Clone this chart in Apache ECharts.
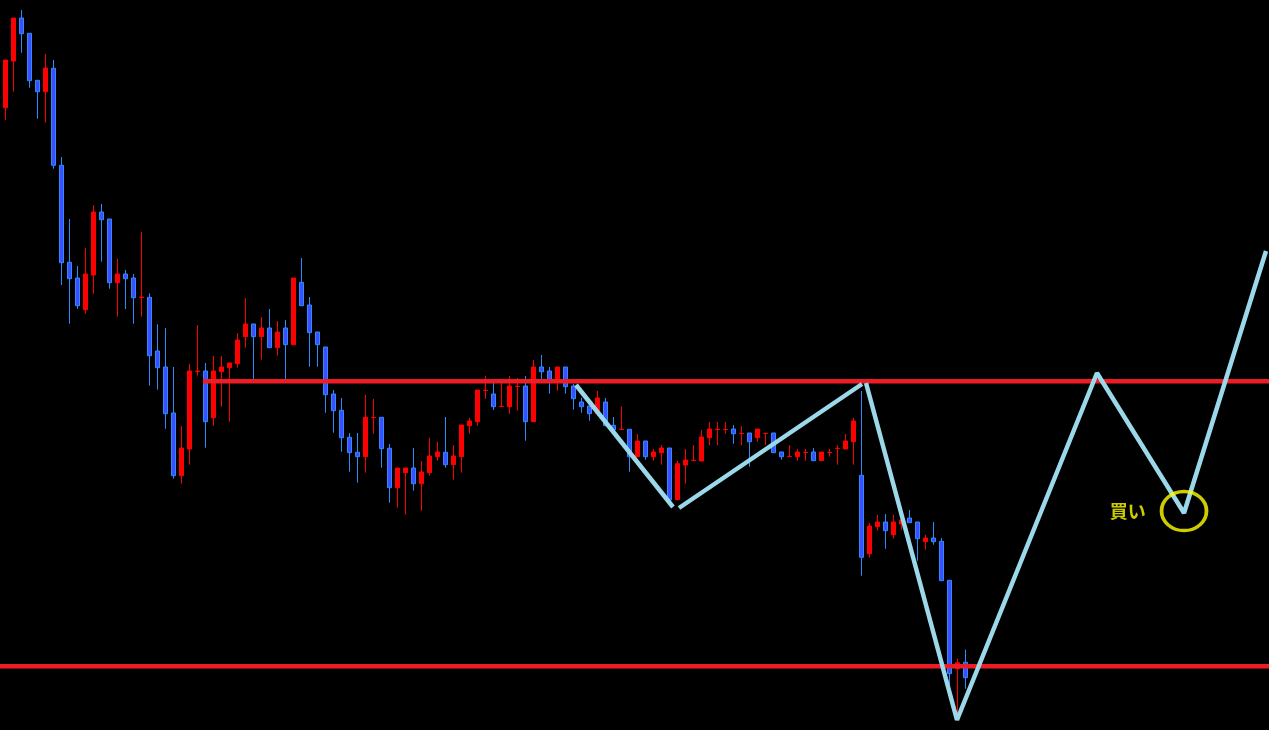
<!DOCTYPE html>
<html>
<head>
<meta charset="utf-8">
<script src="https://cdn.jsdelivr.net/npm/echarts@6/dist/echarts.min.js"></script>
<style>
html,body{margin:0;padding:0;background:#000;}
#chart{width:1269px;height:730px;}
</style>
</head>
<body>
<div id="chart"></div>
<script>
// ---- data (prices) ----
const opens = [106.223,106.690,107.120,106.967,106.497,106.383,106.617,105.647,104.677,104.520,
104.203,104.550,105.180,105.110,104.473,104.560,104.520,104.325,104.327,103.790,
103.630,103.170,102.543,102.810,103.585,103.590,103.123,103.583,103.623,103.663,
103.933,104.060,103.933,104.020,103.823,104.020,103.853,104.477,104.250,103.980,
103.830,103.360,103.197,102.927,102.777,102.733,103.125,103.127,102.817,102.423,
102.573,102.620,102.463,102.573,102.733,102.777,102.653,102.733,103.043,103.083,
103.395,103.360,103.235,103.233,103.435,103.440,103.083,103.630,103.590,103.480,
103.630,103.440,103.280,103.240,103.163,103.280,103.047,103.005,103.007,102.733,
102.890,102.733,102.773,102.820,102.303,102.650,102.695,102.690,102.923,103.005,
103.005,103.010,102.965,102.970,102.923,102.965,102.970,102.780,102.735,102.733,
102.775,102.780,102.693,102.775,102.815,102.810,102.883,102.547,101.763,102.033,
102.080,101.953,102.060,102.120,102.080,101.883,101.920,101.887,101.497,100.613,
100.677];
const closes = [106.700,107.120,106.963,106.493,106.383,106.620,105.647,104.673,104.513,104.243,
104.560,105.180,105.103,104.473,104.560,104.513,104.323,104.330,103.743,103.623,
103.163,102.543,102.820,103.590,103.590,103.083,103.590,103.630,103.670,103.900,
104.060,103.933,104.020,103.823,103.980,103.853,104.520,104.243,103.973,103.853,
103.353,103.193,102.923,102.773,102.733,103.127,103.127,102.813,102.423,102.620,
102.620,102.463,102.580,102.740,102.780,102.653,102.740,103.050,103.090,103.400,
103.397,103.233,103.237,103.440,103.437,103.083,103.630,103.583,103.500,103.630,
103.433,103.313,103.233,103.163,103.320,103.043,103.000,103.007,102.733,102.890,
102.733,102.780,102.820,102.300,102.663,102.700,102.697,102.930,103.010,103.007,
103.007,102.963,102.967,102.883,103.010,102.967,102.773,102.733,102.737,102.780,
102.777,102.693,102.780,102.777,102.817,102.890,103.090,101.727,102.040,102.080,
101.993,102.080,102.100,102.073,101.913,101.920,101.883,101.493,100.563,100.673,
100.523];
const lows = [106.100,106.383,106.773,106.423,106.113,106.073,105.613,104.450,104.063,104.210,
104.163,104.363,104.683,104.413,104.133,104.210,104.063,104.133,103.443,103.403,
103.013,102.513,102.463,102.653,103.543,102.823,103.043,103.233,103.083,103.623,
103.823,103.500,103.703,103.823,103.743,103.500,103.853,104.243,103.633,103.633,
103.173,102.973,102.783,102.583,102.473,102.573,102.963,102.623,102.273,102.223,
102.153,102.393,102.193,102.543,102.693,102.623,102.503,102.573,102.963,103.043,
103.310,103.200,103.235,103.163,103.193,102.893,103.083,103.500,103.363,103.393,
103.363,103.203,103.173,103.093,103.140,103.043,103.000,103.005,102.583,102.733,
102.703,102.693,102.653,102.300,102.303,102.463,102.695,102.690,102.850,102.850,
102.963,102.863,102.850,102.633,102.883,102.850,102.773,102.703,102.735,102.693,
102.693,102.693,102.693,102.733,102.653,102.810,102.653,101.543,101.723,101.993,
101.813,101.913,102.000,102.073,101.693,101.803,101.853,101.493,100.443,100.163,
100.413];
const highs = [106.700,107.120,107.200,106.967,106.497,106.760,106.700,105.730,105.110,104.640,
104.820,105.250,105.260,105.110,104.710,104.600,104.560,104.980,104.367,104.057,
104.020,103.630,103.040,103.660,104.050,103.670,103.740,103.740,103.670,103.970,
104.320,104.060,104.130,104.210,104.090,104.100,104.520,104.720,104.330,103.980,
103.830,103.400,103.320,102.970,102.970,103.350,103.310,103.127,102.860,102.620,
102.620,102.820,102.690,102.923,102.883,103.130,102.850,103.050,103.120,103.400,
103.543,103.483,103.500,103.540,103.520,103.540,103.700,103.750,103.630,103.630,
103.630,103.460,103.323,103.240,103.390,103.320,103.130,103.233,103.007,102.960,
102.890,102.810,102.850,102.820,102.693,102.810,102.850,103.000,103.080,103.080,
103.080,103.050,103.040,102.970,103.010,102.967,102.970,102.780,102.850,102.810,
102.810,102.820,102.780,102.810,102.850,102.960,103.120,103.390,102.070,102.150,
102.160,102.150,102.150,102.200,102.080,101.950,102.080,101.920,101.497,100.713,
100.803];

const barCount = 158;                       // slots on the time axis (incl. projected area)
const categories = Array.from({length: barCount}, (_, i) => String(i + 1));

// resistance / support levels
const resistanceLevel = 103.487, resistanceFrom = 24.7;
const supportLevel = 100.637, supportFrom = -1;

// projected zigzag (bar index, price); null breaks a segment
const zigzag = [
  [71.34, 103.450], [83.46, 102.230], null,
  [84.21, 102.220], [107.09, 103.460], null,
  [107.59, 103.470], [118.96, 100.100], [136.46, 103.570], [147.34, 102.170], [157.59, 104.790]
];

// buy mark
const buyPoint = [147.34, 102.190];
const buyLabel = '買い';

// ---- build ----
const candles = opens.map((o, i) => [o, closes[i], lows[i], highs[i]]);
const segments = [];
let cur = [];
zigzag.forEach(p => { if (p === null) { segments.push(cur); cur = []; } else cur.push(p); });
if (cur.length) segments.push(cur);

const zigSeries = segments.map(seg => ({
  type: 'line', xAxisIndex: 1, yAxisIndex: 0, data: seg, symbol: 'none', clip: false,
  lineStyle: {color: '#9bd8ea', width: 4.5}, z: 5, silent: true
}));

const chart = echarts.init(document.getElementById('chart'), null, {renderer: 'canvas'});
chart.setOption({
  backgroundColor: '#000000',
  animation: false,
  grid: {left: 1.3, top: 0, width: 8 * barCount, height: 730},
  xAxis: [
    {type: 'category', data: categories, show: false, boundaryGap: true},
    {type: 'value', min: -0.5, max: barCount - 0.5, show: false}
  ],
  yAxis: [{type: 'value', min: 100, max: 107.3, show: false, scale: true}],
  series: [
    {
      type: 'candlestick', data: candles, barWidth: 4, z: 3,
      itemStyle: {color: '#ff0000', borderColor: '#ff0000', color0: '#3d4eff', borderColor0: '#2a8cff', borderWidth: 1}
    },
    {
      type: 'line', xAxisIndex: 1, data: [[resistanceFrom, resistanceLevel], [barCount + 2, resistanceLevel]],
      symbol: 'none', lineStyle: {color: '#ee1d25', width: 4.5}, z: 4, clip: false, silent: true
    },
    {
      type: 'line', xAxisIndex: 1, data: [[supportFrom, supportLevel], [barCount + 2, supportLevel]],
      symbol: 'none', lineStyle: {color: '#ee1d25', width: 4.5}, z: 4, clip: false, silent: true
    },
    ...zigSeries,
    {
      type: 'scatter', xAxisIndex: 1, data: [buyPoint], symbol: 'circle', symbolSize: [45, 39], z: 6, clip: false,
      itemStyle: {color: 'rgba(0,0,0,0)', borderColor: '#ffff00', borderWidth: 3.5},
      label: {show: true, formatter: buyLabel, position: 'left', distance: 14, color: '#ffff00',
        fontSize: 18, fontWeight: 'bold', fontFamily: '"Noto Sans CJK JP", sans-serif'},
      silent: true
    }
  ]
});
</script>
</body>
</html>
